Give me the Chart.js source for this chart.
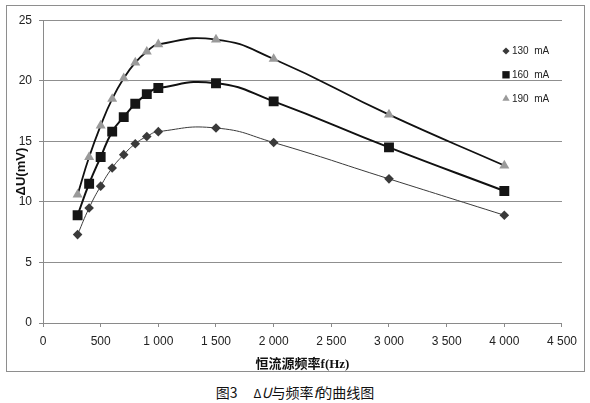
<!DOCTYPE html>
<html>
<head>
<meta charset="utf-8">
<script src="https://cdn.jsdelivr.net/npm/chart.js@4.4.1/dist/chart.umd.min.js"></script>
<style>
  html, body { margin: 0; padding: 0; background: #fff; }
  body { width: 590px; height: 403px; position: relative; overflow: hidden; }
  #box {
    position: absolute; left: 6px; top: 5px;
    width: 579px; height: 367px;
    box-sizing: border-box; border: 1px solid #8e8e8e;
  }
  #box canvas { display: block; }
  #caption {
    position: absolute; left: 0; top: 382px; width: 590px;
    text-align: center; color: #111;
    font: 14px "Noto Sans CJK SC", sans-serif; line-height: 20px;
  }
  #caption .d { font-size: 12px; margin-left: 16px; }
</style>
</head>
<body>
<div id="box"><canvas id="chart" width="577" height="365"></canvas></div>
<div id="caption">图3<span class="d">Δ</span><i>U</i>与频率<i>f</i>的曲线图</div>

<script>
// frequency of the constant-current source (Hz)
const freqs = [300, 400, 500, 600, 700, 800, 900, 1000, 1500, 2000, 3000, 4000];

// ΔU (mV) for each source current
const u130 = [7.3, 9.5, 11.3, 12.8, 13.9, 14.8, 15.4, 15.8, 16.1, 14.9, 11.9, 8.9];
const u160 = [8.9, 11.5, 13.7, 15.8, 17.0, 18.1, 18.9, 19.4, 19.8, 18.3, 14.5, 10.9];
const u190 = [10.6, 13.7, 16.3, 18.5, 20.2, 21.5, 22.4, 23.0, 23.4, 21.8, 17.2, 13.0];

const seriesLabels = ['130  mA', '160  mA', '190  mA'];

const toPoints = (ys) => ys.map((y, i) => ({ x: freqs[i], y: y }));

// thousands with a space, as in the original figure: "1 000"
const fmtThousands = (v) => {
  const s = String(v);
  return s.length > 3 ? s.slice(0, -3) + ' ' + s.slice(-3) : s;
};

// small legend sitting inside the plot, top right
const sideLegend = {
  id: 'sideLegend',
  afterDraw(chart) {
    const ctx = chart.ctx;
    const radii = [3.6, 5.2, 4.2];
    ctx.save();
    ctx.font = '10px "Liberation Sans", sans-serif';
    ctx.textBaseline = 'middle';
    chart.data.datasets.forEach((ds, i) => {
      const y = 45 + i * 23.8;
      ctx.fillStyle = ds.pointBackgroundColor;
      ctx.strokeStyle = ds.pointBackgroundColor;
      Chart.helpers.drawPoint(ctx, { pointStyle: ds.pointStyle, radius: radii[i], borderWidth: 0, rotation: 0 }, 499, y);
      ctx.fillStyle = '#222';
      ctx.fillText(ds.label, 505, y + 0.5);
    });
    ctx.restore();
  }
};

const ctx = document.getElementById('chart').getContext('2d');
new Chart(ctx, {
  type: 'line',
  data: {
    datasets: [
      {
        label: seriesLabels[0],
        data: toPoints(u130),
        borderColor: '#3a3a3a',
        borderWidth: 1,
        pointStyle: 'rectRot',
        pointRadius: 4.8,
        pointBackgroundColor: '#3a3a3a',
        pointBorderColor: '#3a3a3a',
        pointBorderWidth: 0,
      },
      {
        label: seriesLabels[1],
        data: toPoints(u160),
        borderColor: '#111',
        borderWidth: 2,
        pointStyle: 'rect',
        pointRadius: 7,
        pointBackgroundColor: '#151515',
        pointBorderColor: '#151515',
        pointBorderWidth: 0,
      },
      {
        label: seriesLabels[2],
        data: toPoints(u190),
        borderColor: '#111',
        borderWidth: 1.8,
        pointStyle: 'triangle',
        pointRadius: 5.8,
        pointBackgroundColor: '#9a9a9a',
        pointBorderColor: '#9a9a9a',
        pointBorderWidth: 0,
      }
    ]
  },
  options: {
    responsive: false,
    animation: false,
    layout: { padding: { top: 11, right: 21, left: 0, bottom: 0 } },
    elements: {
      line: { tension: 0.5, fill: false }
    },
    plugins: {
      legend: { display: false },
      tooltip: { enabled: false }
    },
    scales: {
      x: {
        type: 'linear',
        min: 0,
        max: 4500,
        afterFit: (scale) => { scale.height = 48; },
        ticks: {
          stepSize: 500,
          padding: 7,
          color: '#222',
          font: { family: '"Liberation Sans", sans-serif', size: 12 },
          maxRotation: 0,
          callback: (v) => fmtThousands(v)
        },
        grid: {
          drawOnChartArea: false,
          drawTicks: true,
          tickLength: 4,
          tickColor: '#8a8a8a'
        },
        border: { display: true, color: '#8a8a8a' },
        title: {
          display: true,
          text: '恒流源频率f(Hz)',
          color: '#111',
          font: { family: '"Liberation Serif", "Noto Sans CJK SC", serif', size: 13, weight: 'bold', lineHeight: 1 },
          padding: { top: 0, bottom: 0 }
        }
      },
      y: {
        min: 0,
        max: 25,
        afterFit: (scale) => { scale.width = 36; },
        ticks: {
          stepSize: 5,
          padding: 7,
          color: '#222',
          font: { family: '"Liberation Sans", sans-serif', size: 12 }
        },
        grid: {
          color: '#8f8f8f',
          lineWidth: 1,
          drawTicks: true,
          tickLength: 4,
          tickColor: '#8a8a8a'
        },
        border: { display: true, color: '#8a8a8a' },
        title: {
          display: true,
          text: 'ΔU(mV)',
          color: '#111',
          font: { family: '"Liberation Sans", sans-serif', size: 13, weight: 'bold' },
          padding: { top: 7, bottom: 0 }
        }
      }
    }
  },
  plugins: [sideLegend]
});
</script>
</body>
</html>
